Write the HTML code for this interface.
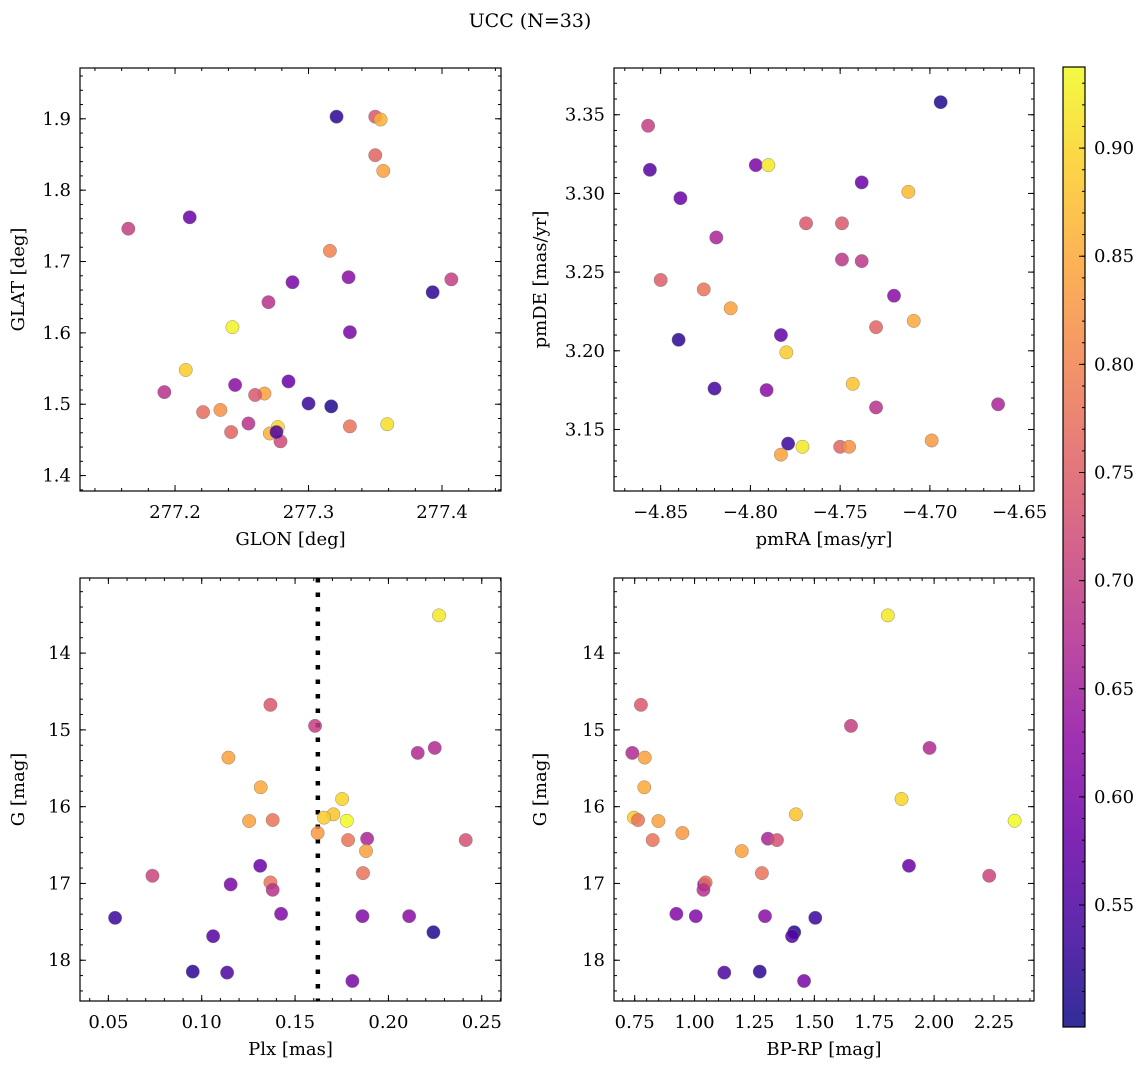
<!DOCTYPE html>
<html><head><meta charset="utf-8">
<style>
html,body{margin:0;padding:0;background:#fff;}
svg{display:block;font-family:"DejaVu Serif","Liberation Serif",serif;}
</style></head>
<body>
<svg id="fig" width="1148" height="1067" viewBox="0 0 1148 1067" xmlns="http://www.w3.org/2000/svg">
<rect width="1148" height="1067" fill="#fff"/>
<text x="530" y="27" font-size="19" text-anchor="middle" fill="#000">UCC (N=33)</text>
</svg>
<script>
// ---- data: panel 1 (GLON vs GLAT) ----
const glon = [277.321,277.350,277.354,277.350,277.356,277.165,277.211,277.316,277.330,277.288,277.270,277.393,277.407,277.243,277.331,277.208,277.192,277.245,277.285,277.267,277.260,277.300,277.317,277.221,277.234,277.255,277.242,277.277,277.271,277.279,277.276,277.331,277.359];
const glat = [1.903,1.903,1.899,1.849,1.827,1.746,1.762,1.715,1.678,1.671,1.643,1.657,1.675,1.608,1.601,1.548,1.517,1.527,1.532,1.515,1.513,1.501,1.497,1.489,1.492,1.473,1.461,1.468,1.459,1.448,1.461,1.469,1.472];
const prob1 = [0.52,0.74,0.86,0.76,0.84,0.70,0.58,0.80,0.62,0.60,0.68,0.52,0.70,0.93,0.60,0.89,0.68,0.62,0.58,0.84,0.74,0.53,0.51,0.77,0.82,0.68,0.76,0.90,0.86,0.72,0.55,0.78,0.91];
// ---- data: panel 2 (pmRA vs pmDE) ----
const pmra = [-4.694,-4.857,-4.856,-4.839,-4.797,-4.790,-4.738,-4.712,-4.769,-4.749,-4.819,-4.749,-4.738,-4.850,-4.826,-4.720,-4.811,-4.709,-4.730,-4.783,-4.840,-4.780,-4.820,-4.743,-4.791,-4.730,-4.662,-4.699,-4.779,-4.750,-4.745,-4.771,-4.783];
const pmde = [3.358,3.343,3.315,3.297,3.318,3.318,3.307,3.301,3.281,3.281,3.272,3.258,3.257,3.245,3.239,3.235,3.227,3.219,3.215,3.210,3.207,3.199,3.176,3.179,3.175,3.164,3.166,3.143,3.141,3.139,3.139,3.139,3.134];
const prob2 = [0.51,0.70,0.56,0.58,0.60,0.92,0.58,0.87,0.74,0.74,0.66,0.69,0.69,0.75,0.78,0.62,0.84,0.85,0.76,0.57,0.52,0.89,0.54,0.88,0.62,0.68,0.66,0.83,0.53,0.76,0.82,0.92,0.84];
// ---- data: panels 3 & 4 (Plx, BP-RP vs G) ----
const plx  = [0.2271,0.1368,0.1607,0.2157,0.2248,0.1143,0.1316,0.1752,0.1705,0.1655,0.1777,0.1254,0.1380,0.1621,0.1784,0.1886,0.2414,0.1880,0.1864,0.1313,0.0736,0.1155,0.1368,0.1380,0.1425,0.1861,0.2111,0.0536,0.2241,0.1061,0.0952,0.1136,0.1807];
const gmag = [13.509,14.674,14.948,15.300,15.235,15.361,15.748,15.900,16.100,16.143,16.183,16.187,16.174,16.343,16.435,16.417,16.435,16.578,16.865,16.770,16.900,17.013,16.987,17.083,17.396,17.426,17.426,17.448,17.635,17.687,18.148,18.161,18.270];
const bprp = [1.807,0.776,1.653,0.740,1.981,0.792,0.790,1.864,1.423,0.747,2.336,0.849,0.764,0.949,0.825,1.306,1.344,1.197,1.281,1.895,2.230,1.040,1.046,1.037,0.924,1.005,1.294,1.504,1.416,1.407,1.272,1.124,1.457];
const prob3 = [0.92,0.74,0.70,0.67,0.67,0.84,0.85,0.90,0.88,0.89,0.94,0.84,0.78,0.83,0.78,0.66,0.73,0.84,0.78,0.58,0.71,0.60,0.78,0.68,0.61,0.61,0.62,0.53,0.51,0.56,0.52,0.55,0.60];
const plxCut = 0.1622;
const cbTicks = [0.55,0.60,0.65,0.70,0.75,0.80,0.85,0.90];

const NS="http://www.w3.org/2000/svg";
const svg=document.getElementById('fig');
function mk(tag,attrs,parent){const e=document.createElementNS(NS,tag);for(const k in attrs)e.setAttribute(k,attrs[k]);(parent||svg).appendChild(e);return e;}
const VMIN=0.4936,VMAX=0.9375;
const stops=[[13,8,135],[65,4,157],[106,0,168],[143,13,164],[177,42,144],[204,71,120],[225,100,98],[242,132,75],[252,166,54],[252,206,37],[240,249,33]];
function plasma(t){t=Math.max(0,Math.min(1,t));const f=t*10,i=Math.min(9,Math.floor(f)),r=f-i;const a=stops[i],b=stops[i+1];return 'rgb('+[0,1,2].map(k=>Math.round(a[k]+(b[k]-a[k])*r)).join(',')+')';}
function cmap(v){return plasma((v-VMIN)/(VMAX-VMIN));}

function panel(o){
  const g=mk('g',{});
  
  
  const sx=v=>o.x0+(v-o.xd[0])/(o.xd[1]-o.xd[0])*(o.x1-o.x0);
  const sy=o.invert? v=>o.y0+(v-o.yd[0])/(o.yd[1]-o.yd[0])*(o.y1-o.y0) : v=>o.y1-(v-o.yd[0])/(o.yd[1]-o.yd[0])*(o.y1-o.y0);
  const tg=mk('g',{stroke:'#000','stroke-width':1},g);
  function ticksX(step,len){
    const s=Math.ceil(o.xd[0]/step-1e-6);
    for(let k=s;k*step<=o.xd[1]+1e-9;k++){const v=k*step,x=sx(v);
      mk('line',{x1:x,x2:x,y1:o.y1,y2:o.y1-len},tg);mk('line',{x1:x,x2:x,y1:o.y0,y2:o.y0+len},tg);}
  }
  function ticksY(step,len){
    const lo=Math.min(o.yd[0],o.yd[1]),hi=Math.max(o.yd[0],o.yd[1]);
    const s=Math.ceil(lo/step-1e-6);
    for(let k=s;k*step<=hi+1e-9;k++){const y=sy(k*step);
      mk('line',{x1:o.x0,x2:o.x0+len,y1:y,y2:y},tg);mk('line',{x1:o.x1,x2:o.x1-len,y1:y,y2:y},tg);}
  }
  ticksX(o.xminor,3);ticksY(o.yminor,3);
  o.xt.forEach(v=>{const x=sx(v);mk('line',{x1:x,x2:x,y1:o.y1,y2:o.y1-6},tg);mk('line',{x1:x,x2:x,y1:o.y0,y2:o.y0+6},tg);
    const t=mk('text',{x:x,y:o.y1+27,'font-size':18,'text-anchor':'middle'},g);t.textContent=(v<0?'\u2212':'')+Math.abs(v).toFixed(o.xdp);
    
    });
  o.yt.forEach(v=>{const y=sy(v);mk('line',{x1:o.x0,x2:o.x0+6,y1:y,y2:y},tg);mk('line',{x1:o.x1,x2:o.x1-6,y1:y,y2:y},tg);
    const t=mk('text',{x:o.x0-9,y:y+6,'font-size':18,'text-anchor':'end'},g);t.textContent=v.toFixed(o.ydp);
    
    });
  const clip='c'+o.name;
  const cp=mk('clipPath',{id:clip},g);mk('rect',{x:o.x0,y:o.y0,width:o.x1-o.x0,height:o.y1-o.y0},cp);
  const pg=mk('g',{'clip-path':'url(#'+clip+')'},g);
  if(o.vline!==undefined){const l=mk('line',{x1:sx(o.vline),x2:sx(o.vline),y1:o.y0,y2:o.y1,stroke:'#000','stroke-width':4.5,'stroke-dasharray':'4.5 10'},pg);
    
    }
  for(let i=0;i<o.xs.length;i++){
    const c=mk('circle',{cx:sx(o.xs[i]),cy:sy(o.ys[i]),r:6.7,fill:cmap(o.cs[i]),'fill-opacity':0.85,stroke:'#777','stroke-width':0.4},pg);
    
    
  }
  mk('rect',{x:o.x0,y:o.y0,width:o.x1-o.x0,height:o.y1-o.y0,fill:'none',stroke:'#000','stroke-width':1.2},g);
  const xl=mk('text',{x:(o.x0+o.x1)/2,y:o.y1+54,'font-size':18,'text-anchor':'middle'},g);xl.textContent=o.xlabel;
  
  
  const yx=o.ylx,yy=(o.y0+o.y1)/2;
  const yl=mk('text',{x:yx,y:yy,'font-size':18,'text-anchor':'middle',transform:'rotate(-90 '+yx+' '+yy+')'},g);yl.textContent=o.ylabel;
  
  
}
panel({name:'glon-glat-panel',x0:80,x1:501,y0:68,y1:491,xd:[277.1288,277.4442],yd:[1.3784,1.9712],xt:[277.2,277.3,277.4],xdp:1,yt:[1.4,1.5,1.6,1.7,1.8,1.9],ydp:1,xminor:0.02,yminor:0.02,xs:glon,ys:glat,cs:prob1,xlabel:'GLON [deg]',ylabel:'GLAT [deg]',ylx:24});
panel({name:'pm-panel',x0:614,x1:1034,y0:68,y1:491,xd:[-4.876,-4.642],yd:[3.1109,3.3797],xt:[-4.85,-4.80,-4.75,-4.70,-4.65],xdp:2,yt:[3.15,3.20,3.25,3.30,3.35],ydp:2,xminor:0.01,yminor:0.01,xs:pmra,ys:pmde,cs:prob2,xlabel:'pmRA [mas/yr]',ylabel:'pmDE [mas/yr]',ylx:546});
panel({name:'plx-g-panel',x0:80,x1:501,y0:578,y1:1001,xd:[0.0348,0.2603],yd:[13.022,18.531],invert:true,xt:[0.05,0.10,0.15,0.20,0.25],xdp:2,yt:[14,15,16,17,18],ydp:0,xminor:0.01,yminor:0.2,xs:plx,ys:gmag,cs:prob3,xlabel:'Plx [mas]',ylabel:'G [mag]',ylx:24,vline:plxCut});
panel({name:'cmd-panel',x0:614,x1:1034,y0:578,y1:1001,xd:[0.6636,2.417],yd:[13.022,18.531],invert:true,xt:[0.75,1.00,1.25,1.50,1.75,2.00,2.25],xdp:2,yt:[14,15,16,17,18],ydp:0,xminor:0.05,yminor:0.2,xs:bprp,ys:gmag,cs:prob3,xlabel:'BP-RP [mag]',ylabel:'G [mag]',ylx:546});

// colorbar
const cb=mk('g',{});


const cx0=1063,cx1=1085,cy0=67,cy1=1027;
const defs=mk('defs',{},cb);
const lg=mk('linearGradient',{id:'cbg',x1:0,y1:1,x2:0,y2:0},defs);
for(let i=0;i<=20;i++){mk('stop',{offset:i/20,'stop-color':plasma(i/20),'stop-opacity':0.85},lg);}
mk('rect',{x:cx0,y:cy0,width:cx1-cx0,height:cy1-cy0,fill:'url(#cbg)',stroke:'#000','stroke-width':1.2},cb);
const cy=v=>cy1-(v-VMIN)/(VMAX-VMIN)*(cy1-cy0);
for(let k=50;k<=93;k++){const y=cy(k/100);mk('line',{x1:cx1,x2:cx1-3,y1:y,y2:y,stroke:'#000'},cb);}
cbTicks.forEach(v=>{const y=cy(v);mk('line',{x1:cx1,x2:cx1-6,y1:y,y2:y,stroke:'#000'},cb);
  const t=mk('text',{x:cx1+9,y:y+6,'font-size':18},cb);t.textContent=v.toFixed(2);
  
  });
</script>
</body></html>
